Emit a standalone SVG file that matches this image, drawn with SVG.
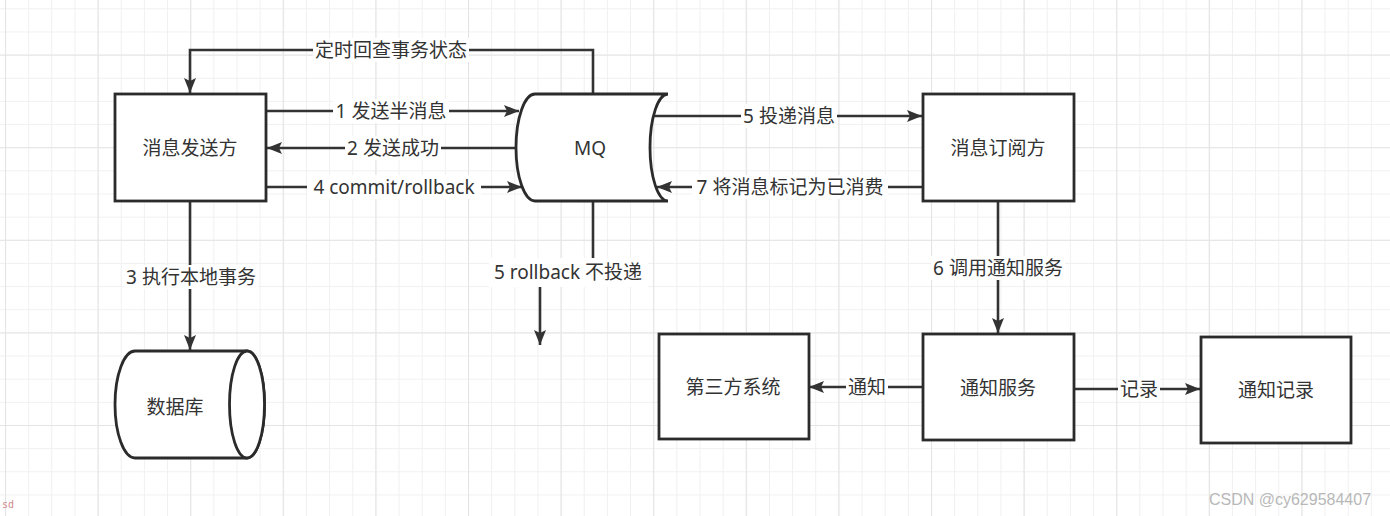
<svg xmlns="http://www.w3.org/2000/svg" width="1390" height="516" viewBox="0 0 1390 516">
<style>
.box{fill:#fff;stroke:#2b2b2b;stroke-width:2.8}
.edge{fill:none;stroke:#333;stroke-width:2.6}
.t{font-family:"Noto Sans","Noto Sans CJK SC",sans-serif;font-size:19px;fill:#333;text-anchor:middle;dominant-baseline:central}
.bg{fill:#fff}
</style>
<defs>
<pattern id="minor" patternUnits="userSpaceOnUse" x="5" y="8.3" width="23.15" height="23.15">
<path d="M0 0.5H23.15M0.5 0V23.15" stroke="#f0f0f0" stroke-width="1" fill="none"/>
</pattern>
<pattern id="major" patternUnits="userSpaceOnUse" x="5" y="54.6" width="92.6" height="92.6">
<path d="M0 0.5H92.6M0.5 0V92.6" stroke="#e4e4e4" stroke-width="1.2" fill="none"/>
</pattern>
<marker id="arr" markerUnits="userSpaceOnUse" markerWidth="16" markerHeight="14" viewBox="0 0 16 14" refX="15" refY="7" orient="auto">
<path d="M0 1L15 7L0 13L3 7Z" fill="#333"/>
</marker>
</defs>
<rect width="1390" height="516" fill="#fff"/>
<rect width="1390" height="516" fill="url(#minor)"/>
<rect width="1390" height="516" fill="url(#major)"/>

<g id="connectors">
<path class="edge" d="M593 94V50H190V93" marker-end="url(#arr)"/>
<rect class="bg" x="313" y="38" width="156" height="24"/>
<text class="t" x="391" y="50">定时回查事务状态</text>

<path class="edge" d="M266 111H519" marker-end="url(#arr)"/>
<rect class="bg" x="333" y="99" width="116" height="24"/>
<text class="t" x="391" y="111">1 发送半消息</text>

<path class="edge" d="M516 148H267" marker-end="url(#arr)"/>
<rect class="bg" x="345" y="136" width="96" height="24"/>
<text class="t" x="393" y="148">2 发送成功</text>

<path class="edge" d="M266 187H522" marker-end="url(#arr)"/>
<rect class="bg" x="307" y="175" width="174" height="24"/>
<text class="t" x="394" y="187">4 commit/rollback</text>

<path class="edge" d="M653 116H922" marker-end="url(#arr)"/>
<rect class="bg" x="741" y="104" width="96" height="24"/>
<text class="t" x="789" y="116">5 投递消息</text>

<path class="edge" d="M923 187H657" marker-end="url(#arr)"/>
<rect class="bg" x="692" y="175" width="196" height="24"/>
<text class="t" x="790" y="187">7 将消息标记为已消费</text>

<path class="edge" d="M190 201V350" marker-end="url(#arr)"/>
<rect class="bg" x="124" y="265" width="134" height="24"/>
<text class="t" x="191" y="277">3 执行本地事务</text>

<path class="edge" d="M593 201V272H540V345" marker-end="url(#arr)"/>
<rect class="bg" x="489" y="258" width="159" height="29"/>
<text class="t" x="568" y="272">5 rollback 不投递</text>

<path class="edge" d="M998 201V333" marker-end="url(#arr)"/>
<rect class="bg" x="931" y="256" width="134" height="24"/>
<text class="t" x="998" y="268">6 调用通知服务</text>

<path class="edge" d="M923 387H809" marker-end="url(#arr)"/>
<rect class="bg" x="846" y="375" width="42" height="24"/>
<text class="t" x="867" y="387">通知</text>

<path class="edge" d="M1074 389H1200" marker-end="url(#arr)"/>
<rect class="bg" x="1118" y="377" width="42" height="24"/>
<text class="t" x="1139" y="389">记录</text>
</g>

<g id="sender">
<rect class="box" x="115" y="94" width="151" height="107"/>
<text class="t" x="190" y="148">消息发送方</text>
</g>

<g id="mq">
<path class="box" d="M535 94H668A18 53.5 0 0 0 668 201H535A19 53.5 0 0 1 535 94Z"/>
<text class="t" x="590" y="148">MQ</text>
</g>

<g id="subscriber">
<rect class="box" x="923" y="94" width="151" height="107"/>
<text class="t" x="998" y="148">消息订阅方</text>
</g>

<g id="database">
<path class="box" d="M135 351H247A17.5 53.5 0 0 1 247 458H135A20 53.5 0 0 1 135 351Z"/>
<ellipse class="box" cx="247" cy="404.5" rx="17.5" ry="53.5" fill="none"/>
<text class="t" x="175" y="407">数据库</text>
</g>

<g id="thirdparty">
<rect class="box" x="659" y="334" width="150" height="105"/>
<text class="t" x="733" y="387">第三方系统</text>
</g>

<g id="notifyservice">
<rect class="box" x="923" y="334" width="151" height="106"/>
<text class="t" x="998" y="388">通知服务</text>
</g>

<g id="notifyrecord">
<rect class="box" x="1201" y="337" width="150" height="106"/>
<text class="t" x="1276" y="390">通知记录</text>
</g>

<text x="1290" y="499" font-family="'Liberation Sans',sans-serif" font-size="16" fill="#b8b8b8" text-anchor="middle" dominant-baseline="central">CSDN @cy629584407</text>
<text x="2" y="508" font-family="'DejaVu Sans Mono',monospace" font-size="10" fill="#d08a8a">sd</text>
</svg>
